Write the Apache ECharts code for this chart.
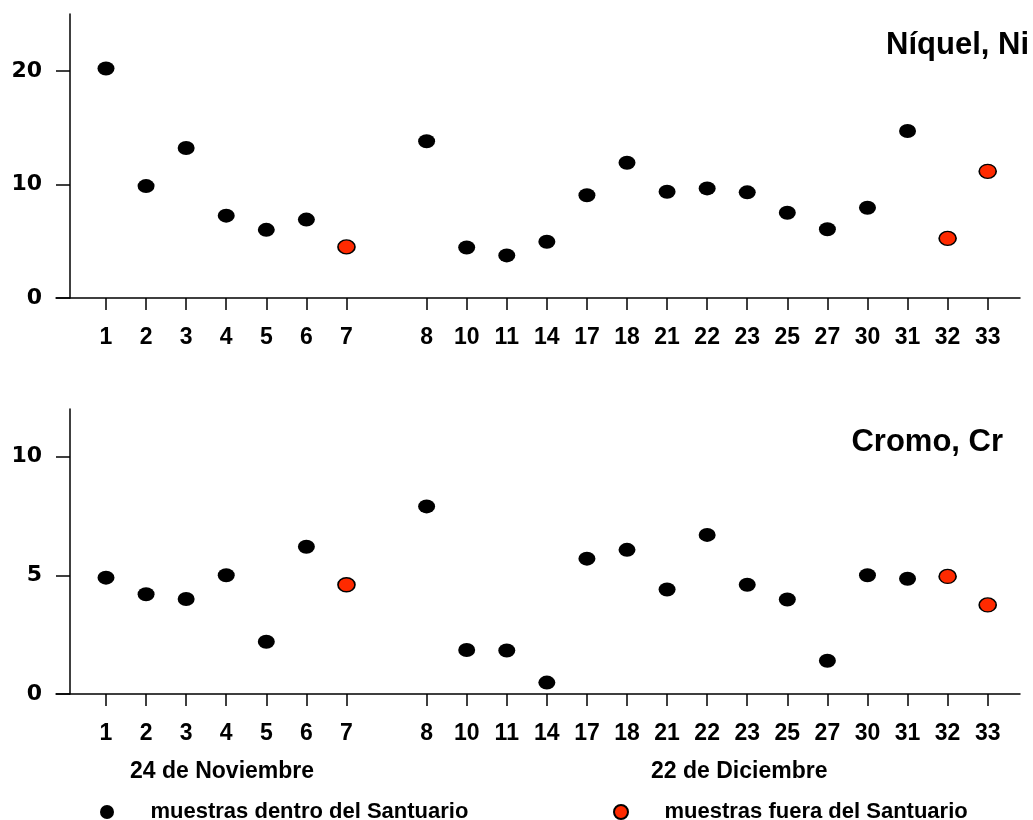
<!DOCTYPE html>
<html>
<head>
<meta charset="utf-8">
<script src="https://cdn.jsdelivr.net/npm/echarts@6/dist/echarts.min.js"></script>
<style>
html,body{margin:0;padding:0;background:#fff;}
#chart{width:1033px;height:820px;}
</style>
</head>
<body>
<div id="chart"></div>
<script>
// Sample labels ('' = visual gap between the two sampling dates)
const categories = ['1','2','3','4','5','6','7','','8','10','11','14','17','18','21','22','23','25','27','30','31','32','33'];
// Samples taken outside the sanctuary
const outsideSamples = ['7','32','33'];
// Nickel (Ni) values
const niquel = [20.2, 9.85, 13.2, 7.25, 6.0, 6.9, 4.5, null, 13.8, 4.45, 3.75, 4.95, 9.05, 11.9, 9.35, 9.65, 9.3, 7.5, 6.05, 7.95, 14.7, 5.25, 11.15];
// Chromium (Cr) values
const cromo = [4.9, 4.2, 4.0, 5.0, 2.2, 6.2, 4.6, null, 7.9, 1.85, 1.83, 0.48, 5.7, 6.07, 4.4, 6.7, 4.6, 3.98, 1.4, 5.0, 4.85, 4.95, 3.75];
const niTicks = [0, 10, 20];
const crTicks = [0, 5, 10];
const panelTitles = ['Níquel, Ni', 'Cromo, Cr'];
const dateLabels = ['24 de Noviembre', '22 de Diciembre'];
const seriesNames = ['muestras dentro del Santuario', 'muestras fuera del Santuario'];

const ELLIPSE = 'path://M0,50 A50,50 0 1,0 100,50 A50,50 0 1,0 0,50 Z';
const RED = '#ff2a00';
const tickIdx = categories.map((c, i) => c === '' ? null : i).filter(v => v !== null);

function split(values) {
  const inside = [], outside = [];
  values.forEach((v, i) => {
    if (categories[i] === '' || v == null) return;
    (outsideSamples.includes(categories[i]) ? outside : inside).push([i, v]);
  });
  return [inside, outside];
}
const [niIn, niOut] = split(niquel);
const [crIn, crOut] = split(cromo);

const XMIN = -1.2476, XMAX = 22.806;
function xAxis(gridIndex) {
  return {
    type: 'value', gridIndex, min: XMIN, max: XMAX,
    axisLine: {show: true, onZero: false, lineStyle: {color: '#000', width: 1.5}},
    axisTick: {show: true, length: 12, customValues: tickIdx, lineStyle: {color: '#000', width: 1.5}},
    axisLabel: {
      show: true, customValues: tickIdx, margin: 28,
      formatter: v => categories[Math.round(v)],
      fontFamily: '"Liberation Sans", Arial, sans-serif', fontWeight: 'bold', fontSize: 23, color: '#000'
    },
    splitLine: {show: false}
  };
}
function yAxis(gridIndex, max, ticks) {
  return {
    type: 'value', gridIndex, min: 0, max, offset: -14,
    axisLine: {show: true, onZero: false, lineStyle: {color: '#000', width: 1.5}},
    axisTick: {show: true, length: 14, customValues: ticks, lineStyle: {color: '#000', width: 1.5}},
    axisLabel: {
      show: true, customValues: ticks, margin: 28,
      fontFamily: '"DejaVu Sans", sans-serif', fontWeight: 'bold', fontSize: 22, color: '#000'
    },
    splitLine: {show: false}
  };
}
function scatter(name, data, xi, yi, red) {
  return {
    name, type: 'scatter', xAxisIndex: xi, yAxisIndex: yi, data,
    symbol: ELLIPSE, symbolSize: [17, 14],
    itemStyle: red ? {color: RED, borderColor: '#000', borderWidth: 1.5, opacity: 1} : {color: '#000', borderColor: '#000', borderWidth: 0, opacity: 1},
    emphasis: {disabled: true}, silent: true
  };
}

const chart = echarts.init(document.getElementById('chart'), null, {renderer: 'canvas'});
const titleFont = 'bold 31px "Liberation Sans", Arial, sans-serif';
const labelFont = 'bold 23px "Liberation Sans", Arial, sans-serif';
const legendText = {fontFamily: '"Liberation Sans", Arial, sans-serif', fontWeight: 'bold', fontSize: 22, color: '#000', padding: [0, 0, 0, 30]};
chart.setOption({
  backgroundColor: '#fff',
  animation: false,
  grid: [
    {left: 56, right: 13, top: 14, height: 284},
    {left: 56, right: 13, top: 409, height: 285}
  ],
  xAxis: [xAxis(0), xAxis(1)],
  yAxis: [yAxis(0, 25, niTicks), yAxis(1, 12, crTicks)],
  legend: [
    {
      left: 100, top: 801, itemWidth: 17, itemHeight: 14, itemGap: 0, padding: 0,
      data: [{name: seriesNames[0], icon: ELLIPSE}],
      textStyle: legendText, selectedMode: false
    },
    {
      left: 613, top: 801, itemWidth: 17, itemHeight: 14, itemGap: 0, padding: 0,
      data: [{name: seriesNames[1], icon: ELLIPSE}],
      textStyle: legendText, selectedMode: false
    }
  ],
  graphic: [
    {type: 'text', right: 4, top: 30, style: {text: panelTitles[0], font: titleFont, fill: '#000'}},
    {type: 'text', right: 30, top: 427, style: {text: panelTitles[1], font: titleFont, fill: '#000'}},
    {type: 'text', left: 130, top: 760, style: {text: dateLabels[0], font: labelFont, fill: '#000'}},
    {type: 'text', left: 651, top: 760, style: {text: dateLabels[1], font: labelFont, fill: '#000'}}
  ],
  series: [
    scatter(seriesNames[0], niIn, 0, 0, false),
    scatter(seriesNames[1], niOut, 0, 0, true),
    scatter(seriesNames[0], crIn, 1, 1, false),
    scatter(seriesNames[1], crOut, 1, 1, true)
  ]
});
</script>
</body>
</html>
